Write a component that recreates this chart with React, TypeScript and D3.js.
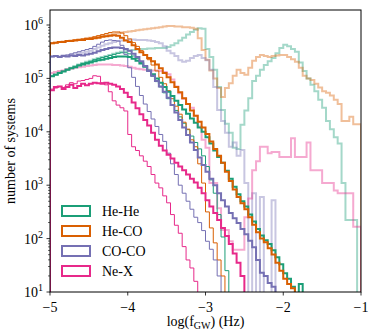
import React from "react";
import * as d3 from "d3";

// log10(number of systems) per 0.05-dex bin of log(f_GW), first bin starts at -5.
// 0 marks an empty bin.
const binStart = -5;
const binWidth = 0.05;

const heHeThick = [
  5.04, 5.07, 5.1, 5.13, 5.16, 5.19, 5.21, 5.24, 5.26, 5.28,
  5.3, 5.32, 5.34, 5.35, 5.37, 5.38, 5.4, 5.41, 5.41, 5.41,
  5.4, 5.37, 5.33, 5.28, 5.22, 5.15, 5.08, 5.0, 4.92, 4.84,
  4.75, 4.67, 4.58, 4.5, 4.42, 4.34, 4.25, 4.17, 4.08, 4.0,
  3.9, 3.78, 3.65, 3.53, 3.42, 3.27, 3.12, 2.97, 2.83, 2.7,
  2.6, 2.45, 2.32, 2.18, 2.06, 1.97, 1.9, 1.78, 1.65, 1.52,
  1.35, 1.25, 1.1, 0, 1.15,
];
const heCoThick = [
  5.66, 5.67, 5.68, 5.68, 5.7, 5.7, 5.71, 5.72, 5.72, 5.74,
  5.74, 5.75, 5.76, 5.78, 5.79, 5.8, 5.81, 5.8, 5.76, 5.71,
  5.68, 5.62, 5.55, 5.49, 5.44, 5.38, 5.32, 5.26, 5.19, 5.1,
  5.02, 4.93, 4.84, 4.74, 4.63, 4.52, 4.4, 4.3, 4.19, 4.08,
  3.96, 3.82, 3.68, 3.55, 3.42, 3.25, 3.08, 2.92, 2.78, 2.66,
  2.55, 2.4, 2.26, 2.12, 2.0, 1.93, 1.82, 1.7, 1.55, 1.4,
  1.25, 1.15, 1.07,
];
const coCoThick = [
  5.41, 5.42, 5.4, 5.42, 5.41, 5.43, 5.42, 5.44, 5.43, 5.45,
  5.46, 5.48, 5.51, 5.53, 5.55, 5.57, 5.58, 5.58, 5.57, 5.55,
  5.52, 5.46, 5.4, 5.32, 5.23, 5.14, 5.05, 4.95, 4.85, 4.75,
  4.64, 4.5, 4.36, 4.22, 4.08, 3.94, 3.8, 3.66, 3.52, 3.38,
  3.25, 3.12, 3.0, 2.85, 2.72, 2.6, 2.48, 2.38, 2.29, 2.18,
  2.08, 1.96, 1.84, 1.6, 1.36, 1.3, 1.17, 1.1,
];
const neXThick = [
  4.78, 4.84, 4.85, 4.8, 4.84, 4.88, 4.82, 4.86, 4.9, 4.87,
  4.9, 4.92, 4.91, 4.9, 4.92, 4.9, 4.88, 4.85, 4.8, 4.73,
  4.65, 4.55, 4.44, 4.33, 4.22, 4.12, 3.98, 3.85, 3.74, 3.65,
  3.57, 3.5, 3.42, 3.35, 3.28, 3.2, 3.12, 3.05, 2.95, 2.85,
  2.72, 2.6, 2.48, 2.35, 2.2, 2.05, 1.9, 1.72, 1.55, 1.3,
];

const heHeThin = [
  5.04, 5.07, 5.1, 5.13, 5.16, 5.19, 5.22, 5.25, 5.28, 5.3,
  5.32, 5.35, 5.37, 5.39, 5.41, 5.43, 5.45, 5.47, 5.48, 5.48,
  5.46, 5.42, 5.37, 5.3, 5.22, 5.13, 5.04, 4.94, 4.84, 4.73,
  4.62, 4.51, 4.4, 4.28, 4.16, 4.04, 3.92, 3.8, 3.68, 3.55,
  3.35, 3.1, 2.85, 2.45, 2.03, 1.4,
];
const heCoThin = [
  5.66, 5.67, 5.68, 5.69, 5.7, 5.71, 5.72, 5.73, 5.74, 5.75,
  5.76, 5.78, 5.8, 5.82, 5.84, 5.86, 5.87, 5.87, 5.85, 5.8,
  5.74, 5.67, 5.6, 5.52, 5.44, 5.35, 5.25, 5.14, 5.02, 4.9,
  4.77, 4.62, 4.48, 4.33, 4.18, 4.05, 3.85, 3.72, 3.4, 3.04,
  2.5, 2.2, 1.92, 1.6, 1.3,
];
const coCoThin = [
  5.41, 5.42, 5.41, 5.43, 5.44, 5.46, 5.48, 5.5, 5.52, 5.54,
  5.56, 5.6, 5.64, 5.68, 5.71, 5.72, 5.71, 5.7, 5.62, 5.45,
  5.2, 5.02, 4.85, 4.68, 4.52, 4.38, 4.24, 4.1, 3.95, 3.82,
  3.6, 3.4, 3.2, 3.0, 2.85, 2.7, 2.55, 2.4, 2.3, 2.15,
  1.95, 1.8, 1.6, 1.3,
];
const neXThin = [
  4.8, 4.82, 4.85, 4.83, 4.88, 4.92, 4.9, 4.95, 4.96, 4.98,
  5.0, 5.05, 5.04, 4.92, 4.88, 4.75, 4.58, 4.5, 4.45, 4.39,
  3.95, 3.72, 3.65, 3.55, 3.45, 3.35, 3.2, 3.04, 2.95, 2.8,
  2.67, 2.45, 2.25, 2.1, 1.85, 1.6, 1.45, 1.2,
];

const heHeFaded = [
  5.05, 5.08, 5.11, 5.14, 5.17, 5.2, 5.23, 5.26, 5.29, 5.31,
  5.33, 5.36, 5.38, 5.4, 5.42, 5.44, 5.46, 5.48, 5.5, 5.51,
  5.52, 5.53, 5.54, 5.55, 5.55, 5.56, 5.56, 5.57, 5.57, 5.57,
  5.59, 5.62, 5.66, 5.71, 5.76, 5.82, 5.87, 5.91, 5.94, 5.93,
  5.55, 5.4, 5.16, 4.84, 4.41, 4.15, 3.98, 3.7, 3.68, 4.13,
  4.4, 4.63, 4.95, 5.05, 5.16, 5.25, 5.32, 5.38, 5.47, 5.57,
  5.63, 5.6, 5.55, 5.5, 5.3, 5.14, 5.0, 4.88, 4.76, 4.6,
  4.45, 4.2, 4.05, 3.9, 3.78, 3.04, 2.35, 2.35, 2.35,
];
const heCoFaded = [
  5.66, 5.67, 5.68, 5.69, 5.7, 5.71, 5.72, 5.73, 5.74, 5.75,
  5.76, 5.77, 5.79, 5.8, 5.81, 5.82, 5.84, 5.85, 5.86, 5.87,
  5.88, 5.89, 5.9, 5.91, 5.92, 5.93, 5.94, 5.95, 5.96, 5.97,
  5.98, 5.98, 5.97, 5.97, 5.96, 5.96, 5.95, 5.93, 5.75, 5.53,
  5.35, 5.15, 5.0, 4.82, 4.65, 4.82, 4.91, 5.05, 5.16, 5.1,
  5.07, 5.2, 5.33, 5.4, 5.44, 5.42, 5.4, 5.42, 5.43, 5.44,
  5.44, 5.4, 5.36, 5.31, 5.2, 5.05, 5.0, 4.97, 4.9, 4.83,
  4.76, 4.73, 4.68, 4.6, 4.52, 4.2, 4.2, 4.28, 4.14, 4.14,
];
const coCoFaded = [
  5.41, 5.42, 5.41, 5.43, 5.42, 5.44, 5.45, 5.47, 5.48, 5.5,
  5.52, 5.55, 5.58, 5.61, 5.64, 5.66, 5.68, 5.7, 5.71, 5.72,
  5.72, 5.73, 5.72, 5.72, 5.72, 5.71, 5.7, 5.68, 5.66, 5.6,
  5.52, 5.47, 5.42, 5.34, 5.31, 5.33, 5.38, 5.42, 5.44, 5.38,
  5.34, 5.16, 4.84, 4.41, 4.2, 3.98, 3.72, 3.8, 3.55, 3.66,
  3.04, 0, 2.85, 0, 2.78, 0, 0, 2.72,
];
const neXFaded = [
  5.1, 5.12, 5.14, 5.15, 5.17, 5.18, 5.2, 5.21, 5.22, 5.23,
  5.24, 5.25, 5.26, 5.26, 5.26, 5.26, 5.25, 5.25, 5.24, 5.23,
  5.22, 5.2, 5.18, 5.17, 5.16, 5.16, 5.15, 5.15, 5.14, 5.12,
  5.08, 4.98, 4.85, 4.72, 4.62, 4.52, 4.45, 4.3, 4.1, 3.85,
  3.7, 3.04, 3.04, 2.57, 2.16, 2.16, 1.95, 1.79, 1.79, 1.79,
  2.4, 2.75, 3.28, 3.45, 3.72, 3.72, 3.6, 3.62, 3.62, 3.53,
  3.53, 3.53, 3.88, 3.53, 3.53, 3.53, 3.8, 3.28, 3.28, 3.28,
  3.04, 3.04, 3.04, 2.9, 2.85, 2.85, 2.85, 2.85, 2.22, 2.22,
];

const classNames = ["He-He", "He-CO", "CO-CO", "Ne-X"];
const classColors = ["#1b9e77", "#d95f02", "#7570b3", "#e7298a"];
const fadedSeries = [heHeFaded, heCoFaded, coCoFaded, neXFaded];
const thinSeries = [heHeThin, heCoThin, coCoThin, neXThin];
const thickSeries = [heHeThick, heCoThick, coCoThick, neXThick];

const xTicks = [-5, -4, -3, -2, -1];
const yTicks = [1, 2, 3, 4, 5, 6];

const W = 374;
const H = 336;
const margin = { top: 10, right: 13, bottom: 44, left: 50 };
const FONT = "'Liberation Serif', 'Times New Roman', serif";

export default function App() {
  const x = d3.scaleLinear().domain([-5, -1]).range([margin.left, W - margin.right]);
  const y = d3.scaleLog().domain([10, 1.91e6]).range([H - margin.bottom, margin.top]);
  const below = H - margin.bottom + 40;

  const stepPath = (vals: number[]) => {
    const yOf = (v: number) => (v <= 0 ? below : y(Math.pow(10, v)));
    const pts: [number, number][] = [[x(binStart), below]];
    vals.forEach((v, i) => {
      pts.push([x(binStart + i * binWidth), yOf(v)]);
      pts.push([x(binStart + (i + 1) * binWidth), yOf(v)]);
    });
    pts.push([x(binStart + vals.length * binWidth), below]);
    return d3.line()(pts) || "";
  };

  const minorTicks: number[] = [];
  for (let e = 1; e <= 6; e++) {
    for (let m = 2; m <= 9; m++) {
      const v = m * Math.pow(10, e);
      if (v <= 1.91e6) minorTicks.push(v);
    }
  }

  const x0 = margin.left;
  const x1 = W - margin.right;
  const y0 = H - margin.bottom;
  const y1 = margin.top;

  return (
    <svg width={W} height={H} style={{ position: "absolute", left: 0, top: 0, background: "#fff" }}>
      <defs>
        <clipPath id="plot-clip">
          <rect x={x0} y={y1} width={x1 - x0} height={y0 - y1} />
        </clipPath>
      </defs>
      <g clipPath="url(#plot-clip)" fill="none" strokeLinejoin="miter">
        {fadedSeries.map((s, i) => (
          <path key={"f" + i} d={stepPath(s)} stroke={classColors[i]} strokeOpacity={0.4} strokeWidth={2} />
        ))}
        {thinSeries.map((s, i) => (
          <path key={"t" + i} d={stepPath(s)} stroke={classColors[i]} strokeWidth={1} />
        ))}
        {thickSeries.map((s, i) => (
          <path key={"k" + i} d={stepPath(s)} stroke={classColors[i]} strokeWidth={2} />
        ))}
      </g>
      <rect x={x0} y={y1} width={x1 - x0} height={y0 - y1} fill="none" stroke="#000" strokeWidth={1} />
      {/* x axis */}
      {xTicks.map((t) => (
        <g key={"xt" + t}>
          <line x1={x(t)} x2={x(t)} y1={y0} y2={y0 + 3.5} stroke="#000" strokeWidth={0.8} />
          <text x={x(t)} y={y0 + 20} textAnchor="middle" fontFamily={FONT} fontSize={14}>
            {"\u2212" + Math.abs(t)}
          </text>
        </g>
      ))}
      {/* y axis */}
      {minorTicks.map((v) => (
        <line key={"ym" + v} x1={x0 - 2} x2={x0} y1={y(v)} y2={y(v)} stroke="#000" strokeWidth={0.6} />
      ))}
      {yTicks.map((e) => (
        <g key={"yt" + e}>
          <line x1={x0 - 3.5} x2={x0} y1={y(Math.pow(10, e))} y2={y(Math.pow(10, e))} stroke="#000" strokeWidth={0.8} />
          <text x={x0 - 7} y={y(Math.pow(10, e)) + 5} textAnchor="end" fontFamily={FONT} fontSize={14}>
            10
            <tspan fontSize={10} dy={-6}>{e}</tspan>
          </text>
        </g>
      ))}
      <text
        transform={`translate(15, ${(y0 + y1) / 2}) rotate(-90)`}
        textAnchor="middle"
        fontFamily={FONT}
        fontSize={14}
      >
        number of systems
      </text>
      <text x={(x0 + x1) / 2} y={H - 10} textAnchor="middle" fontFamily={FONT} fontSize={14}>
        log(f<tspan fontSize={10} dy={3}>GW</tspan>
        <tspan dy={-3}>) (Hz)</tspan>
      </text>
      {/* legend */}
      {classNames.map((n, i) => (
        <g key={n}>
          <rect x={62} y={206 + i * 20} width={28} height={10} fill="none" stroke={classColors[i]} strokeWidth={2} />
          <text x={102} y={216 + i * 20} fontFamily={FONT} fontSize={14}>
            {n}
          </text>
        </g>
      ))}
    </svg>
  );
}
